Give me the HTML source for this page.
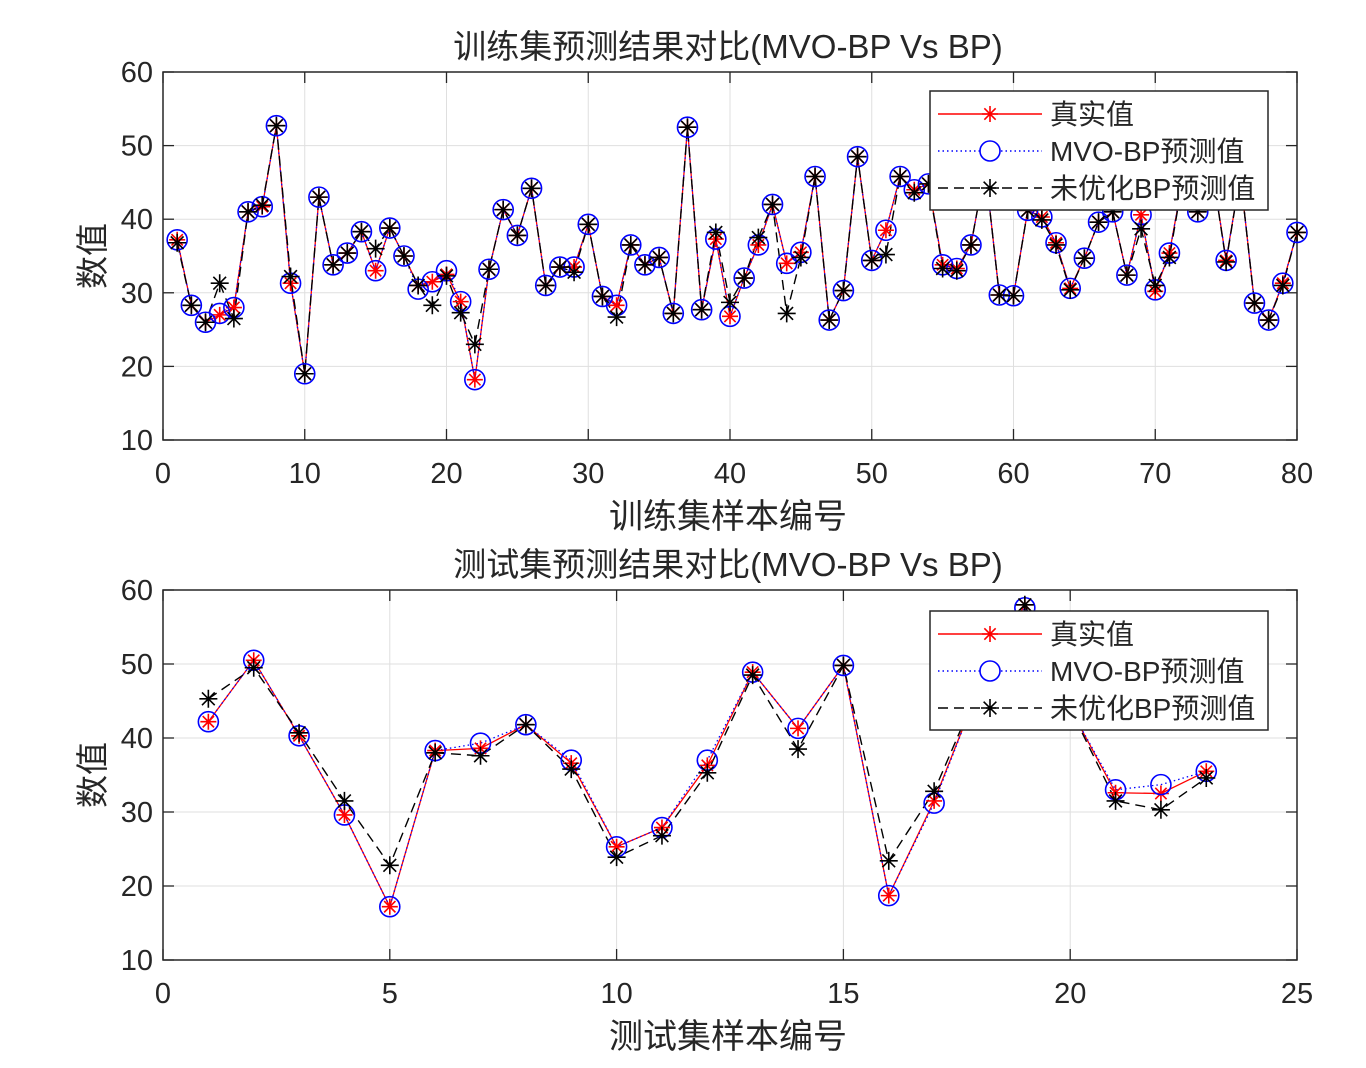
<!DOCTYPE html>
<html><head><meta charset="utf-8">
<style>
html,body{margin:0;padding:0;background:#fff;}
svg{display:block;font-family:"Liberation Sans","Noto Sans CJK SC",sans-serif;}
</style></head>
<body>
<svg id="fig" width="1366" height="1068" viewBox="0 0 1366 1068"></svg>
<script>
// ---- Training set data ----
const trainReal = [37.2,28.3,26,27,28,41,41.7,52.7,31.3,19,43,33.8,35.4,38.3,33,38.8,35,31,31.5,32.5,28.8,18.2,33.2,41.3,37.8,44.2,31,33.5,33.5,39.3,29.5,28.3,36.5,33.8,34.8,27.2,52.5,27.7,37.3,26.8,32,36.5,42,34,35.5,45.8,26.3,30.3,48.5,34.4,38.5,45.8,44,44.8,33.8,33.3,36.5,47,29.7,29.6,41.2,40.3,36.8,30.6,34.7,39.6,41,32.4,40.6,30.2,35.4,46,41,47,34.4,46,28.6,26.3,31.3,38.2];
const trainMVO  = [37.2,28.3,26,27.2,28,41,41.7,52.7,31.3,19,43,33.8,35.4,38.3,33,38.8,35,30.5,31.5,33,28.8,18.2,33.2,41.3,37.8,44.2,31,33.5,33.5,39.3,29.5,28.3,36.5,33.8,34.8,27.2,52.5,27.7,37.3,26.8,32,36.5,42,34,35.5,45.8,26.3,30.3,48.5,34.4,38.5,45.8,44,44.8,33.8,33.3,36.5,47,29.7,29.6,41.2,40.3,36.8,30.6,34.7,39.6,41,32.4,40.6,30.4,35.4,46,41,47,34.4,46,28.6,26.3,31.3,38.2];
const trainBP   = [36.8,28.3,26,31.3,26.5,41,41.9,52.7,32.2,19,43,33.8,35.4,38.3,36,38.8,35,31,28.3,32.3,27.3,23,33.2,41.3,37.8,44.2,31,33.5,32.8,39.3,29.5,26.7,36.5,33.8,34.8,27.2,52.5,27.7,38.2,28.7,32,37.5,42,27.2,34.8,45.8,26.3,30.3,48.5,34.4,35.2,45.8,43.6,44.8,33.3,33,36.5,47,29.7,29.6,41.2,39.9,36.5,30.4,34.7,39.6,41,32.4,38.7,31,34.8,46,41,47,34.2,46,28.6,26.3,31,38.2];
// ---- Test set data ----
const testReal = [42.2,50.5,40.3,29.6,17.2,38.3,38.6,41.8,36.6,25.3,27.9,36.3,48.9,41.3,49.8,18.7,31.5,47,58,44,32.6,32.5,35.5];
const testMVO  = [42.2,50.5,40.3,29.6,17.2,38.3,39.3,41.8,37,25.3,27.9,37,48.9,41.3,49.8,18.7,31.2,47,57.6,44,33,33.7,35.5];
const testBP   = [45.3,49.5,40.7,31.5,22.8,38,37.6,41.8,35.8,23.9,26.8,35.3,48.5,38.5,49.8,23.4,32.8,47,58,44,31.5,30.3,34.6];
const yTicks = [10,20,30,40,50,60];
const xTicksTrain = [0,10,20,30,40,50,60,70,80];
const xTicksTest = [0,5,10,15,20,25];

const NS="http://www.w3.org/2000/svg";
const svg=document.getElementById('fig');
function mk(tag,attrs,parent){const e=document.createElementNS(NS,tag);for(const k in attrs)e.setAttribute(k,attrs[k]);(parent||svg).appendChild(e);return e;}
function txt(s,x,y,size,anchor,parent,extra){const t=mk('text',Object.assign({x:x,y:y,'font-size':size,'text-anchor':anchor||'middle',fill:'#262626'},extra||{}),parent);t.textContent=s;return t;}
function star(g,x,y,r,color){
  let d='';
  for(let i=0;i<4;i++){const a=i*Math.PI/4;const dx=r*Math.cos(a),dy=r*Math.sin(a);d+=`M${x-dx},${y-dy}L${x+dx},${y+dy}`;}
  const p=mk('path',{d:d,stroke:color,'stroke-width':1.6,fill:'none'},g);return p;
}

function panel(opt){
  const {L,R,T,B,xmin,xmax,xTicks,title,xlabel,real,mvo,bp,legT,prefix}=opt;
  const sx=v=>L+(v-xmin)/(xmax-xmin)*(R-L);
  const sy=v=>B-(v-10)/(60-10)*(B-T);
  const g=mk('g',{});
  
  
  mk('rect',{x:L,y:T,width:R-L,height:B-T,fill:'#fff'},g);
  xTicks.forEach(v=>{mk('line',{x1:sx(v),x2:sx(v),y1:T,y2:B,stroke:'#dfdfdf','stroke-width':1},g);});
  yTicks.forEach(v=>{mk('line',{x1:L,x2:R,y1:sy(v),y2:sy(v),stroke:'#dfdfdf','stroke-width':1},g);});
  xTicks.forEach(v=>{
    mk('line',{x1:sx(v),x2:sx(v),y1:B,y2:B-11,stroke:'#262626','stroke-width':1.3},g);
    mk('line',{x1:sx(v),x2:sx(v),y1:T,y2:T+11,stroke:'#262626','stroke-width':1.3},g);
    const t=txt(String(v),sx(v),B+43,29,'middle',g);
    
    
  });
  yTicks.forEach(v=>{
    mk('line',{x1:L,x2:L+11,y1:sy(v),y2:sy(v),stroke:'#262626','stroke-width':1.3},g);
    mk('line',{x1:R,x2:R-11,y1:sy(v),y2:sy(v),stroke:'#262626','stroke-width':1.3},g);
    const t=txt(String(v),L-10,sy(v)+10,29,'end',g);
    
    
  });
  mk('rect',{x:L,y:T,width:R-L,height:B-T,fill:'none',stroke:'#262626','stroke-width':1.5},g);
  const pts=arr=>arr.map((v,i)=>sx(i+1)+','+sy(v)).join(' ');
  const lr=mk('polyline',{points:pts(real),fill:'none',stroke:'#ff0000','stroke-width':1.3},g);
  
  
  const lm=mk('polyline',{points:pts(mvo),fill:'none',stroke:'#0000ff','stroke-width':1.3,'stroke-dasharray':'1.5 3'},g);
  
  
  const lb=mk('polyline',{points:pts(bp),fill:'none',stroke:'#000','stroke-width':1.4,'stroke-dasharray':'10 6'},g);
  
  
  real.forEach((v,i)=>{const m=star(g,sx(i+1),sy(v),8,'#ff0000');
    
    });
  mvo.forEach((v,i)=>{const c=mk('circle',{cx:sx(i+1),cy:sy(v),r:10,fill:'none',stroke:'#0000ff','stroke-width':1.6},g);
    
    });
  bp.forEach((v,i)=>{const m=star(g,sx(i+1),sy(v),9,'#000');
    
    });
  const tt=txt(title,(L+R)/2-2,T-14,33,'middle',g);
  
  
  const xl=txt(xlabel,(L+R)/2-2,B+88,34,'middle',g);
  
  
  const yl=txt('数值',0,0,33,'middle',g,{transform:`translate(104,${(T+B)/2}) rotate(-90)`});
  
  
  const lg=mk('g',{},g);
  
  
  const lx=930,lw=338,lh=119;
  mk('rect',{x:lx,y:legT,width:lw,height:lh,fill:'#fff',stroke:'#262626','stroke-width':1.5},lg);
  const rows=[['真实值','#ff0000',null,'real'],['MVO-BP预测值','#0000ff','1.5 3','mvo'],['未优化BP预测值','#000','10 6','bp']];
  rows.forEach((r,i)=>{
    const y=legT+23+i*37;
    const e=mk('g',{},lg);
    
    
    const la={x1:lx+8,x2:lx+112,y1:y,y2:y,stroke:r[1],'stroke-width':1.4};
    if(r[2])la['stroke-dasharray']=r[2];
    mk('line',la,e);
    if(r[3]==='mvo')mk('circle',{cx:lx+60,cy:y,r:10,fill:'#fff',stroke:'#0000ff','stroke-width':1.6},e);
    else star(e,lx+60,y,r[3]==='real'?8:9,r[1]);
    txt(r[0],lx+120,y+10,28,'start',e);
  });
}

panel({L:163,R:1297,T:72,B:440,xmin:0,xmax:80,xTicks:xTicksTrain,title:'训练集预测结果对比(MVO-BP Vs BP)',xlabel:'训练集样本编号',real:trainReal,mvo:trainMVO,bp:trainBP,legT:91,prefix:'train'});
panel({L:163,R:1297,T:590,B:960,xmin:0,xmax:25,xTicks:xTicksTest,title:'测试集预测结果对比(MVO-BP Vs BP)',xlabel:'测试集样本编号',real:testReal,mvo:testMVO,bp:testBP,legT:611,prefix:'test'});
</script>
</body></html>
